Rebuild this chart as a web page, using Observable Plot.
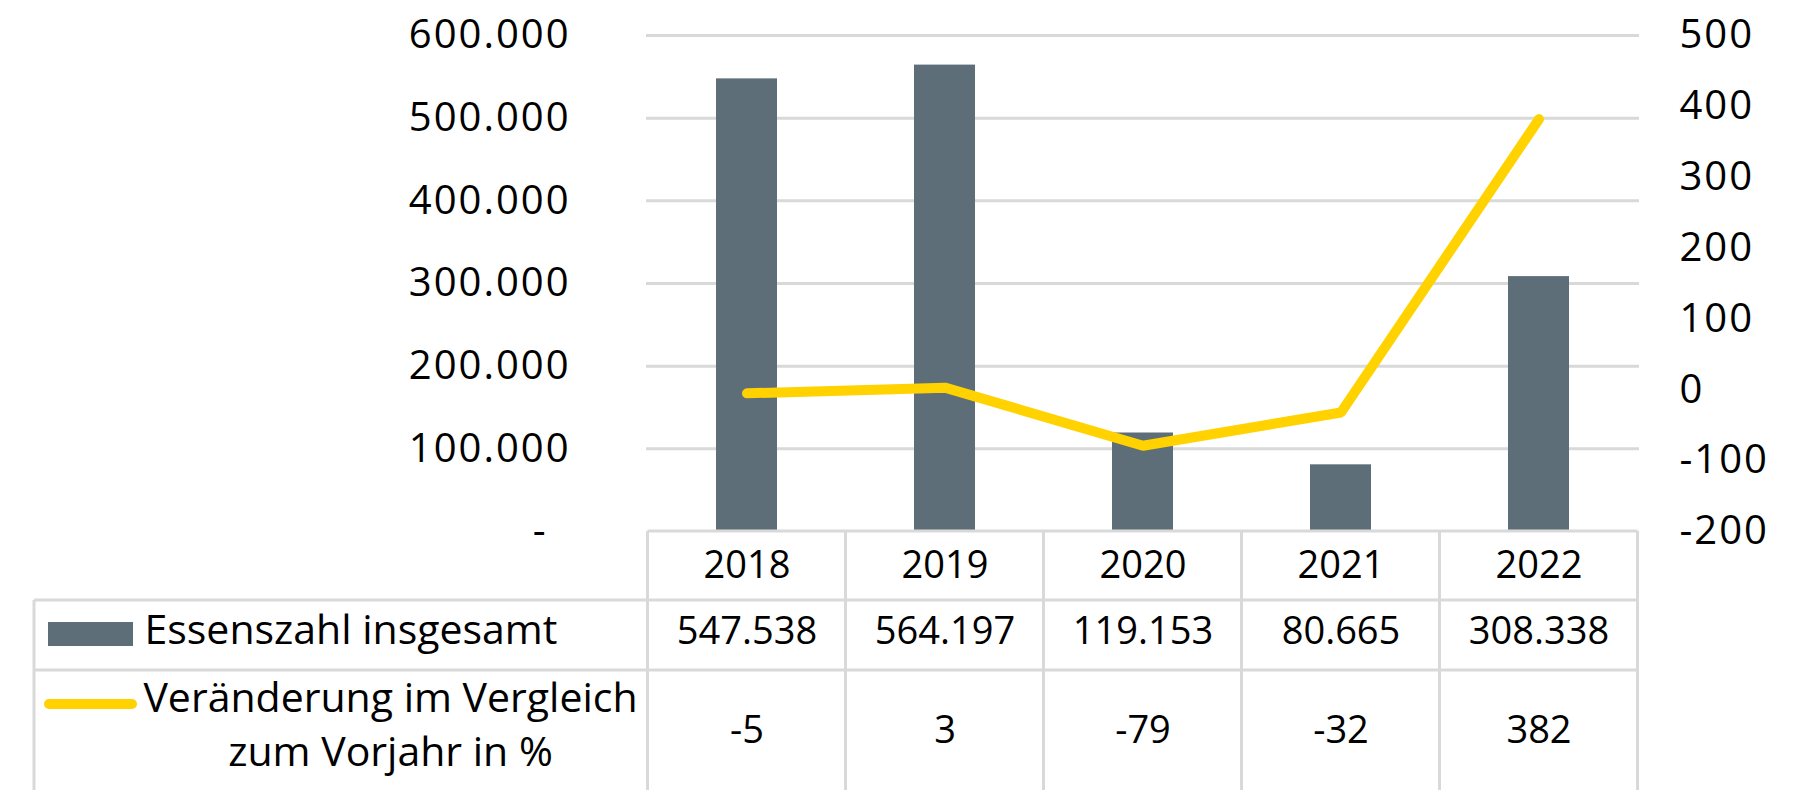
<!DOCTYPE html>
<html><head><meta charset="utf-8">
<script src="https://cdn.jsdelivr.net/npm/d3@7"></script>
<script src="https://cdn.jsdelivr.net/npm/@observablehq/plot@0.6"></script>
<style>
html,body{margin:0;padding:0;background:#fff;}
g[aria-label="y-axis tick label"] text{letter-spacing:2px;}
</style>
</head><body><div id="chart"></div>
<script>
// ---- data ----
const years = ["2018", "2019", "2020", "2021", "2022"];
const meals = [547538, 564197, 119153, 80665, 308338];
const changes = [-5, 3, -79, -32, 382];
const leftTicks = [0, 100000, 200000, 300000, 400000, 500000, 600000];
const rightTicks = [-200, -100, 0, 100, 200, 300, 400, 500];
const seriesLabels = ["Essenszahl insgesamt", "Veränderung im Vergleich", "zum Vorjahr in %"];

// ---- styles ----
const barColor = "#5E6E79", lineColor = "#FFD200", gridColor = "#D9D9D9", textColor = "#000";
const FS = 38, AFS = 40, LFS = 41;

const fmt = d3.formatLocale({decimal: ",", thousands: ".", grouping: [3], currency: ["", "€"]}).format(",d");
const yMax = leftTicks[leftTicks.length - 1];
const rMin = rightTicks[0], rMax = rightTicks[rightTicks.length - 1];
const toLeft = v => (v - rMin) / (rMax - rMin) * yMax;
const fromLeft = y => Math.round(y / yMax * (rMax - rMin) + rMin);

const data = years.map((year, i) => ({year, meals: meals[i], change: changes[i]}));

// table grid + legend keys, drawn from the x band scale
function tableGrid(index, scales, values, dims) {
  const x = scales.x;
  const bw = x.bandwidth ? x.bandwidth() : 0;
  const step = x(years[1]) - x(years[0]);
  const bounds = years.map(y => x(y) + bw / 2 - step / 2);
  bounds.push(bounds[bounds.length - 1] + step);
  const y0 = dims.height - dims.marginBottom;
  const xL = bounds[0], xR = bounds[bounds.length - 1];
  const tableLeft = 34;
  const r1 = y0 + 69, r2 = y0 + 139, yB = dims.height;
  const g = d3.create("svg:g").attr("stroke", gridColor).attr("stroke-width", 3);
  const line = (x1, y1, x2, y2) => g.append("line").attr("x1", x1).attr("y1", y1).attr("x2", x2).attr("y2", y2);
  line(xL, y0, xR, y0);
  line(tableLeft, r1, xR, r1);
  line(tableLeft, r2, xR, r2);
  for (const b of bounds) line(b, y0, b, yB);
  line(tableLeft, r1, tableLeft, yB);
  // legend keys
  g.append("rect").attr("x", 48).attr("y", y0 + 91).attr("width", 85).attr("height", 24)
    .attr("fill", barColor).attr("stroke", "none");
  g.append("line").attr("x1", 49).attr("x2", 132).attr("y1", y0 + 173).attr("y2", y0 + 173)
    .attr("stroke", lineColor).attr("stroke-width", 10).attr("stroke-linecap", "round");
  return g.node();
}

const chart = Plot.plot({
  width: 1819,
  height: 790,
  marginTop: 35,
  marginBottom: 259,
  marginLeft: 646,
  marginRight: 180,
  style: {fontFamily: "'Open Sans', 'Noto Sans', sans-serif", fontSize: FS + "px", color: textColor, background: "#fff"},
  x: {domain: years, paddingInner: 0.69, paddingOuter: 0.345, align: 0.5},
  y: {domain: [0, yMax]},
  marks: [
    Plot.gridY(leftTicks.filter(d => d > 0), {stroke: gridColor, strokeWidth: 3, strokeOpacity: 1}),
    Plot.barY(data, {x: "year", y: "meals", fill: barColor}),
    Plot.line(data, {x: "year", y: d => toLeft(d.change), stroke: lineColor, strokeWidth: 10,
      strokeLinecap: "round", strokeLinejoin: "miter"}),
    Plot.axisY(leftTicks.filter(d => d > 0), {anchor: "left", tickSize: 0, tickPadding: 76, tickFormat: fmt,
      fontSize: AFS, label: null, fill: textColor}),
    Plot.axisY([0], {anchor: "left", tickSize: 0, tickPadding: 99, tickFormat: () => "-",
      fontSize: AFS, label: null, fill: textColor}),
    Plot.axisY(rightTicks.map(toLeft), {anchor: "right", tickSize: 0, tickPadding: 40,
      tickFormat: d => String(fromLeft(d)), fontSize: AFS, label: null, fill: textColor}),
    Plot.axisX({anchor: "bottom", tickSize: 0, tickPadding: 20, fontSize: FS, label: null, fill: textColor}),
    tableGrid,
    Plot.text(data, {x: "year", text: d => fmt(d.meals), frameAnchor: "bottom", dy: 112, fontSize: FS, fill: textColor}),
    Plot.text(data, {x: "year", text: d => String(d.change), frameAnchor: "bottom", dy: 211, fontSize: FS, fill: textColor}),
    Plot.text([seriesLabels[0]], {text: d => d, frameAnchor: "bottom-left", dx: -502, dy: 112,
      textAnchor: "start", fontSize: LFS, fill: textColor}),
    Plot.text([seriesLabels[1]], {text: d => d, frameAnchor: "bottom-left", dx: -256, dy: 180,
      textAnchor: "middle", fontSize: LFS, fill: textColor}),
    Plot.text([seriesLabels[2]], {text: d => d, frameAnchor: "bottom-left", dx: -256, dy: 234,
      textAnchor: "middle", fontSize: LFS, fill: textColor})
  ]
});
document.getElementById("chart").appendChild(chart);
</script>
</body></html>
